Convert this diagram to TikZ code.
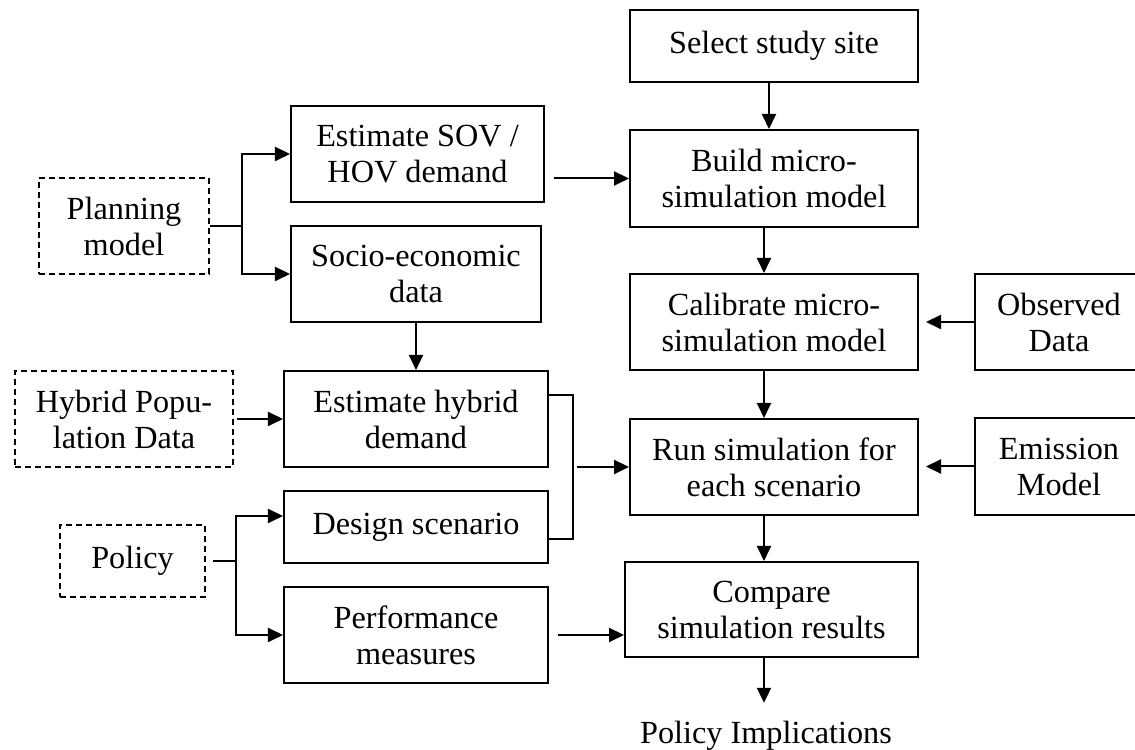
\documentclass[tikz,border=0pt]{standalone}
\usepackage{fontspec}
\setmainfont{Liberation Serif}
\usetikzlibrary{calc, arrows.meta}

\begin{document}
\begin{tikzpicture}[x=0.4pt, y=-0.4pt, font=\fontsize{12.9}{14.4}\selectfont,
		stage/.style={draw, line width=0.8pt, align=center, inner sep=0pt},
		source/.style={draw, line width=0.6pt, dash pattern=on 2.4pt off 1.6pt, align=center, inner sep=0pt},
		link/.style={line width=0.8pt},
		flow/.style={link, -{Triangle[length=6pt, width=5.6pt]}}]
		\useasboundingbox (0,0) rectangle (1135,750);
		% simulation chain
		\node[stage, minimum width=115.2pt, minimum height=28.8pt] (sel) at (774,46) {Select study site};
		\node[stage, minimum width=115.2pt, minimum height=38.8pt] (build) at (774,178.5) {Build micro-\\simulation model};
		\node[stage, minimum width=115.2pt, minimum height=38.4pt] (calib) at (774,322) {Calibrate micro-\\simulation model};
		\node[stage, minimum width=115.2pt, minimum height=38.4pt] (run) at (774,467) {Run simulation for\\each scenario};
		\node[stage, minimum width=117.2pt, minimum height=38pt] (comp) at (771.5,609.5) {Compare\\simulation results};
		\node[inner sep=0pt] (impl) at (766,736) {Policy Implications};
		\node[stage, minimum width=67.2pt, minimum height=38.4pt] (obs) at (1059,322) {Observed\\Data};
		\node[stage, minimum width=67.2pt, minimum height=38.8pt] (emis) at (1059,466.5) {Emission\\Model};
		% inputs
		\node[stage, minimum width=101.2pt, minimum height=38.4pt] (sov) at (417.5,154) {Estimate SOV /\\HOV demand};
		\node[stage, minimum width=100pt, minimum height=38.4pt] (socio) at (416,274) {Socio-economic\\data};
		\node[stage, minimum width=105.6pt, minimum height=38.4pt] (hyb) at (416,419) {Estimate hybrid\\demand};
		\node[stage, minimum width=105.6pt, minimum height=28.8pt] (design) at (416,527) {Design scenario};
		\node[stage, minimum width=105.6pt, minimum height=38.4pt] (perf) at (416,635) {Performance\\measures};
		\node[source, minimum width=68pt, minimum height=38.4pt] (plan) at (124,226) {Planning\\model};
		\node[source, minimum width=87.2pt, minimum height=38.4pt] (hpop) at (124,419) {Hybrid Popu-\\lation Data};
		\node[source, minimum width=58pt, minimum height=28.8pt] (pol) at (132.5,561) {Policy};
		% connectors
		\coordinate (spine) at (764,0);
		\coordinate (pfork) at (242,226);
		\coordinate (qfork) at (236,561);
		\coordinate (join) at (573,467);
		\draw[flow] ($(sel.south -| spine)+(5,0)$) -- ($(build.north -| spine)+(5,0)$);
		\draw[flow] (build.south -| spine) -- (calib.north -| spine);
		\draw[flow] (calib.south -| spine) -- (run.north -| spine);
		\draw[flow] (run.south -| spine) -- (comp.north -| spine);
		\draw[flow, shorten >=7.2pt] (comp.south -| spine) -- (impl.north -| spine);
		\draw[flow, shorten >=2.8pt] (obs.west) -- (calib.east);
		\draw[flow, shorten >=2.8pt] (emis.west) -- (emis.west -| run.east);
		\draw[link] (plan.east) -- (pfork);
		\draw[flow] (pfork) |- (sov.west);
		\draw[flow] (pfork) |- (socio.west);
		\draw[flow] ($(sov.east |- build.west)+(9,0)$) -- (build.west);
		\draw[flow] (socio) -- (hyb);
		\draw[flow, shorten <=1.2pt] (hpop.east) -- (hyb.west);
		\draw[link, shorten <=2.8pt] (pol.east) -- (qfork);
		\draw[flow] (qfork) |- ($(design.west)+(0,-11)$);
		\draw[flow] (qfork) |- (perf.west);
		\draw[link] ($(hyb.east)+(0,-24)$) -| (join) |- ($(design.east)+(0,12)$);
		\draw[flow, shorten <=1.6pt] (join) -- (join -| run.west);
		\draw[flow, shorten <=3.6pt] (perf.east) -- (perf.east -| comp.west);
	\end{tikzpicture}
\end{document}
